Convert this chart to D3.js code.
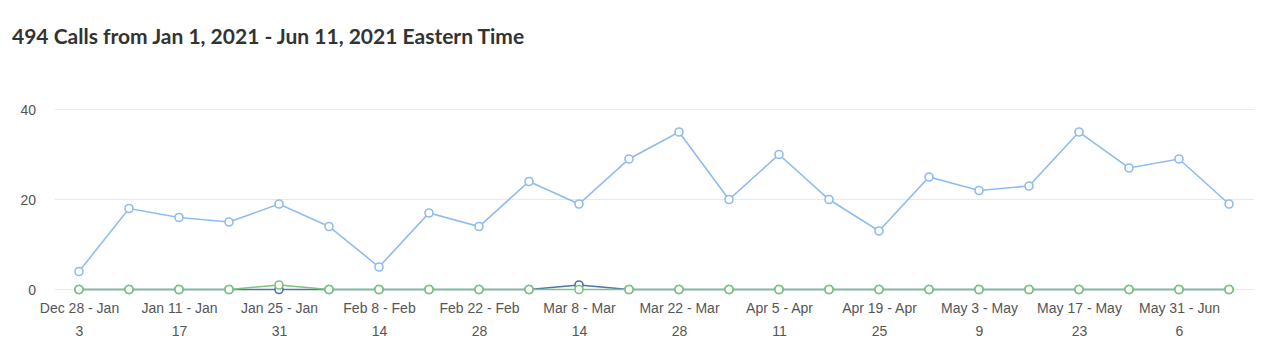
<!DOCTYPE html>
<html>
<head>
<meta charset="utf-8">
<script src="https://cdn.jsdelivr.net/npm/d3@7"></script>
<style>
  body { margin: 0; background: #fff; font-family: Lato, "Open Sans", sans-serif; }
  .title { font-weight: bold; font-size: 21px; fill: #333; }
  .axis text { fill: #555; font-size: 14px; }
</style>
</head>
<body>
<div id="chart"></div>
<script>
const weeks = ["Dec 28 - Jan 3", "Jan 4 - Jan 10", "Jan 11 - Jan 17", "Jan 18 - Jan 24", "Jan 25 - Jan 31",
  "Feb 1 - Feb 7", "Feb 8 - Feb 14", "Feb 15 - Feb 21", "Feb 22 - Feb 28", "Mar 1 - Mar 7",
  "Mar 8 - Mar 14", "Mar 15 - Mar 21", "Mar 22 - Mar 28", "Mar 29 - Apr 4", "Apr 5 - Apr 11",
  "Apr 12 - Apr 18", "Apr 19 - Apr 25", "Apr 26 - May 2", "May 3 - May 9", "May 10 - May 16",
  "May 17 - May 23", "May 24 - May 30", "May 31 - Jun 6", "Jun 7 - Jun 13"];
const callsA = [4, 18, 16, 15, 19, 14, 5, 17, 14, 24, 19, 29, 35, 20, 30, 20, 13, 25, 22, 23, 35, 27, 29, 19];
const callsB = [0, 0, 0, 0, 0, 0, 0, 0, 0, 0, 1, 0, 0, 0, 0, 0, 0, 0, 0, 0, 0, 0, 0, 0];
const callsC = [0, 0, 0, 0, 1, 0, 0, 0, 0, 0, 0, 0, 0, 0, 0, 0, 0, 0, 0, 0, 0, 0, 0, 0];
const yTicks = [0, 20, 40];
const titleText = "494 Calls from Jan 1, 2021 - Jun 11, 2021 Eastern Time";

const width = 1272, height = 361;
const svg = d3.select("#chart").append("svg")
  .attr("width", width).attr("height", height);

svg.append("text").attr("class", "title")
  .attr("x", 12).attr("y", 44).text(titleText);

const gridLeft = 55, gridRight = 1254;
const x = d3.scalePoint().domain(weeks).range([79, 1229]);
const y = d3.scaleLinear().domain([0, 40]).range([289.5, 109.5]);

// gridlines
svg.append("g").selectAll("line").data(yTicks).enter().append("line")
  .attr("x1", gridLeft).attr("x2", gridRight)
  .attr("y1", d => y(d)).attr("y2", d => y(d))
  .attr("stroke", "#e6e9ee").attr("stroke-width", 1);

const yAxis = svg.append("g").attr("class", "axis")
  .attr("transform", "translate(36,0)")
  .call(d3.axisLeft(y).tickValues(yTicks).tickSize(0).tickPadding(0));
yAxis.select(".domain").remove();
yAxis.selectAll("text").attr("dy", "0.35em");

const xAxis = svg.append("g").attr("class", "axis")
  .attr("transform", "translate(0,300)")
  .call(d3.axisBottom(x).tickValues(weeks.filter((d, i) => i % 2 === 0)).tickSize(0).tickPadding(0));
xAxis.select(".domain").remove();
xAxis.selectAll("text").each(function (d) {
  const parts = d.split(" - ");
  const words = parts[1].split(" ");
  const el = d3.select(this).text(null);
  el.append("tspan").attr("x", 0).attr("dy", "0.95em").text(parts[0] + " - " + words[0]);
  el.append("tspan").attr("x", 0).attr("dy", "1.6em").text(words[1]);
});

const series = [
  { values: callsA, color: "#8ebcf0" },
  { values: callsB, color: "#4f74a8" },
  { values: callsC, color: "#7cc47f" }
];

const line = d3.line().x((d, i) => x(weeks[i])).y(d => y(d));

series.forEach(s => {
  const g = svg.append("g");
  g.append("path").datum(s.values)
    .attr("fill", "none").attr("stroke", s.color).attr("stroke-width", 1.6)
    .attr("d", line);
  g.selectAll("circle").data(s.values).enter().append("circle")
    .attr("cx", (d, i) => x(weeks[i])).attr("cy", d => y(d))
    .attr("r", 4).attr("fill", "#fff")
    .attr("stroke", s.color).attr("stroke-width", 1.6);
});
</script>
</body>
</html>
